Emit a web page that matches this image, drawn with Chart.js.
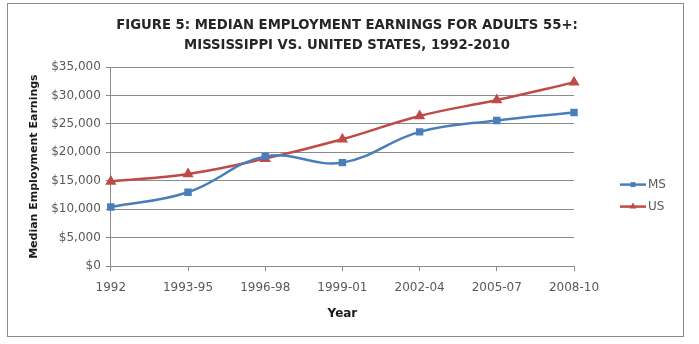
<!DOCTYPE html>
<html>
<head>
<meta charset="utf-8">
<script src="https://cdn.jsdelivr.net/npm/chart.js@4/dist/chart.umd.min.js"></script>
<style>
  html, body { margin: 0; padding: 0; background: #fff; }
  #wrap { width: 699px; height: 344px; position: relative; }
</style>
</head>
<body>
<div id="wrap"><canvas id="plot"></canvas></div>
<script>
// Median employment earnings, adults 55+
const periods = ['1992', '1993-95', '1996-98', '1999-01', '2002-04', '2005-07', '2008-10'];
const msEarnings = [10400, 13000, 19300, 18200, 23600, 25600, 27000];
const usEarnings = [14900, 16200, 18900, 22300, 26400, 29200, 32300];
const titleLines = ['FIGURE 5: MEDIAN EMPLOYMENT EARNINGS FOR ADULTS 55+:',
                    'MISSISSIPPI VS. UNITED STATES, 1992-2010'];

const MS_COLOR = '#4A7EBB';
const US_COLOR = '#BE4B48';
const GRID_COLOR = '#8c8c8c';
const TICK_FONT = {family: 'DejaVu Sans', size: 12};

// grey frame round the whole figure, and the two-line heading centred on the page
// (the chart's own title would centre over the plot only, not counting the legend column)
const frame = {
    id: 'frame',
    beforeDraw: (chart) => {
        const {ctx} = chart;
        ctx.save();
        ctx.fillStyle = '#fff';
        ctx.fillRect(0, 0, chart.width, chart.height);
        ctx.strokeStyle = GRID_COLOR;
        ctx.lineWidth = 1;
        ctx.strokeRect(7.5, 3.5, 676, 333);
        ctx.fillStyle = '#262626';
        ctx.font = 'bold 14.7px "DejaVu Sans Condensed"';
        ctx.textAlign = 'center';
        ctx.textBaseline = 'middle';
        titleLines.forEach((line, i) => ctx.fillText(line, 347, 25 + i * 20));
        ctx.restore();
    }
};

// legend: short line with the series marker in the middle, then the label
const sideLegend = {
    id: 'sideLegend',
    afterDraw: (chart) => {
        const {ctx, chartArea} = chart;
        const x0 = chartArea.right + 46;
        let y = (chartArea.top + chartArea.bottom) / 2 + 18;
        ctx.save();
        chart.data.datasets.forEach(ds => {
            ctx.strokeStyle = ds.borderColor;
            ctx.fillStyle = ds.borderColor;
            ctx.lineWidth = 2.5;
            ctx.beginPath();
            ctx.moveTo(x0, y);
            ctx.lineTo(x0 + 26, y);
            ctx.stroke();
            Chart.helpers.drawPoint(ctx, {
                pointStyle: ds.pointStyle, radius: ds.pointRadius, rotation: 0, borderWidth: 0
            }, x0 + 13, y);
            ctx.fillStyle = '#595959';
            ctx.font = '12px "DejaVu Sans"';
            ctx.textAlign = 'left';
            ctx.textBaseline = 'middle';
            ctx.fillText(ds.label, x0 + 28, y);
            y += 22;
        });
        ctx.restore();
    }
};

new Chart(document.getElementById('plot').getContext('2d'), {
    type: 'line',
    data: {
        labels: periods,
        datasets: [
            {
                label: 'MS',
                data: msEarnings,
                borderColor: MS_COLOR,
                backgroundColor: MS_COLOR,
                borderWidth: 2.5,
                pointStyle: 'rect',
                pointRadius: 3.5,
                tension: 0.4,
            },
            {
                label: 'US',
                data: usEarnings,
                borderColor: US_COLOR,
                backgroundColor: US_COLOR,
                borderWidth: 2.5,
                pointStyle: 'triangle',
                pointRadius: 4,
                tension: 0.4,
            }
        ]
    },
    options: {
        responsive: true,
        maintainAspectRatio: false,
        animation: false,
        layout: {padding: {left: 24, right: 125, top: 67, bottom: 19}},
        scales: {
            x: {
                offset: false,
                grid: {
                    drawOnChartArea: false,
                    drawTicks: true,
                    tickLength: 5,
                    color: GRID_COLOR,
                },
                border: {color: GRID_COLOR},
                ticks: {color: '#595959', font: TICK_FONT, maxRotation: 0, padding: 9},
                title: {
                    display: true,
                    text: 'Year',
                    color: '#1a1a1a',
                    font: {family: 'DejaVu Sans', size: 12, weight: 'bold'},
                    padding: {top: 3},
                },
            },
            y: {
                min: 0,
                max: 35000,
                ticks: {
                    stepSize: 5000,
                    color: '#595959',
                    font: TICK_FONT,
                    padding: 5,
                    callback: v => '$' + v.toLocaleString('en-US'),
                },
                grid: {color: GRID_COLOR, tickLength: 5},
                border: {color: GRID_COLOR},
                title: {
                    display: true,
                    text: 'Median Employment Earnings',
                    color: '#1a1a1a',
                    font: {family: 'DejaVu Sans', size: 11, weight: 'bold'},
                    padding: {bottom: 5},
                },
            }
        },
        plugins: {
            legend: {display: false},
            tooltip: {enabled: false},
        }
    },
    plugins: [frame, sideLegend]
});
</script>
</body>
</html>
